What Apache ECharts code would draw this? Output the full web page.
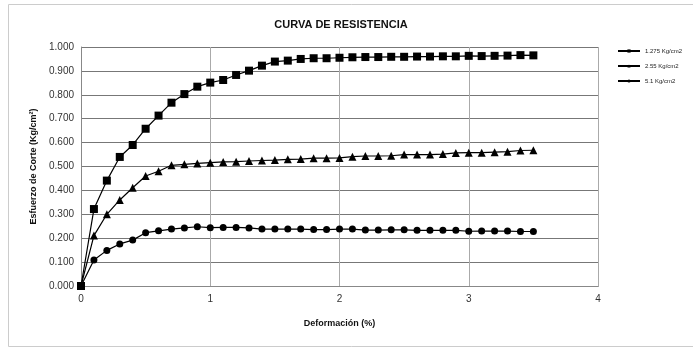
<!DOCTYPE html>
<html><head><meta charset="utf-8">
<script src="https://cdn.jsdelivr.net/npm/echarts@6/dist/echarts.min.js"></script>
<style>html,body{margin:0;padding:0;background:#fff}#c{width:693px;height:350px}</style>
</head><body><div id="c"></div>
<script>
const xValues = [0,0.1,0.2,0.3,0.4,0.5,0.6,0.7,0.8,0.9,1.0,1.1,1.2,1.3,1.4,1.5,1.6,1.7,1.8,1.9,2.0,2.1,2.2,2.3,2.4,2.5,2.6,2.7,2.8,2.9,3.0,3.1,3.2,3.3,3.4,3.5];
const s1275 = [0,0.322,0.441,0.540,0.590,0.658,0.713,0.767,0.803,0.834,0.851,0.862,0.883,0.901,0.922,0.939,0.943,0.950,0.953,0.953,0.955,0.957,0.958,0.958,0.959,0.959,0.960,0.960,0.961,0.961,0.963,0.962,0.963,0.964,0.966,0.965];
const s255 = [0,0.211,0.300,0.360,0.411,0.460,0.480,0.505,0.509,0.513,0.516,0.519,0.520,0.523,0.525,0.527,0.530,0.531,0.535,0.535,0.536,0.541,0.544,0.544,0.545,0.550,0.550,0.550,0.552,0.557,0.558,0.558,0.560,0.562,0.567,0.568];
const s51 = [0,0.109,0.149,0.176,0.192,0.223,0.231,0.238,0.243,0.248,0.244,0.245,0.245,0.243,0.238,0.238,0.238,0.238,0.236,0.236,0.238,0.238,0.234,0.234,0.235,0.235,0.233,0.233,0.233,0.233,0.229,0.230,0.230,0.230,0.228,0.228];
const seriesNames = ['1.275 Kg/cm2','2.55 Kg/cm2','5.1 Kg/cm2'];
const xTicks = [0,1,2,3,4];

const pair = arr => arr.map((v,i)=>[xValues[i], v]);
const chart = echarts.init(document.getElementById('c'));
const font = 'Liberation Sans, Arial, sans-serif';
function mk(name, data, symbol, size, z){
  return {name, type:'line', data:pair(data), symbol, symbolSize:size, z,
    showAllSymbol:true, lineStyle:{color:'#000', width:1.2}, itemStyle:{color:'#000'}, animation:false};
}
chart.setOption({
  animation:false,
  title:{text:'CURVA DE RESISTENCIA', left:336, top:14, textAlign:'center',
    textStyle:{fontFamily:font, fontSize:11, fontWeight:'bold', color:'#111'}},
  legend:{orient:'vertical', left:612, top:43, itemGap:9, itemWidth:22, itemHeight:4,
    data:seriesNames, textStyle:{fontFamily:font, fontSize:6, color:'#222'}},
  grid:{left:81, right:95, top:47, bottom:64},
  xAxis:{type:'value', min:0, max:4, interval:1, name:'Deformación (%)', nameLocation:'middle', nameGap:33,
    nameTextStyle:{fontFamily:font, fontSize:9, fontWeight:'bold', color:'#111'},
    axisLine:{show:true, lineStyle:{color:'#888'}}, axisTick:{show:false},
    axisLabel:{fontFamily:font, fontSize:10, color:'#333', margin:8, formatter:v=>xTicks.includes(v)?String(v):''},
    splitLine:{show:true, lineStyle:{color:'#aaa', width:1}}},
  yAxis:{type:'value', min:0, max:1, interval:0.1, name:'Esfuerzo de Corte (Kg/cm²)', nameLocation:'middle', nameGap:42,
    nameTextStyle:{fontFamily:font, fontSize:9, fontWeight:'bold', color:'#111'},
    axisLine:{show:true, lineStyle:{color:'#888'}}, axisTick:{show:false},
    axisLabel:{fontFamily:font, fontSize:10, color:'#333', margin:7, formatter:v=>v.toFixed(3)},
    splitLine:{show:true, lineStyle:{color:'#777', width:1}}},
  graphic:[
    {type:'rect', shape:{x:8.5, y:4.5, width:690, height:342}, style:{fill:'none', stroke:'#ccc', lineWidth:1}, silent:true},
    {type:'rect', shape:{x:81.5, y:47.5, width:517, height:239}, style:{fill:'none', stroke:'#999', lineWidth:1}, silent:true, z:-1}
  ],
  series:[
    mk(seriesNames[2], s51, 'circle', 7, 2),
    mk(seriesNames[1], s255, 'triangle', 8, 3),
    mk(seriesNames[0], s1275, 'rect', 8, 4)
  ]
});
</script></body></html>
